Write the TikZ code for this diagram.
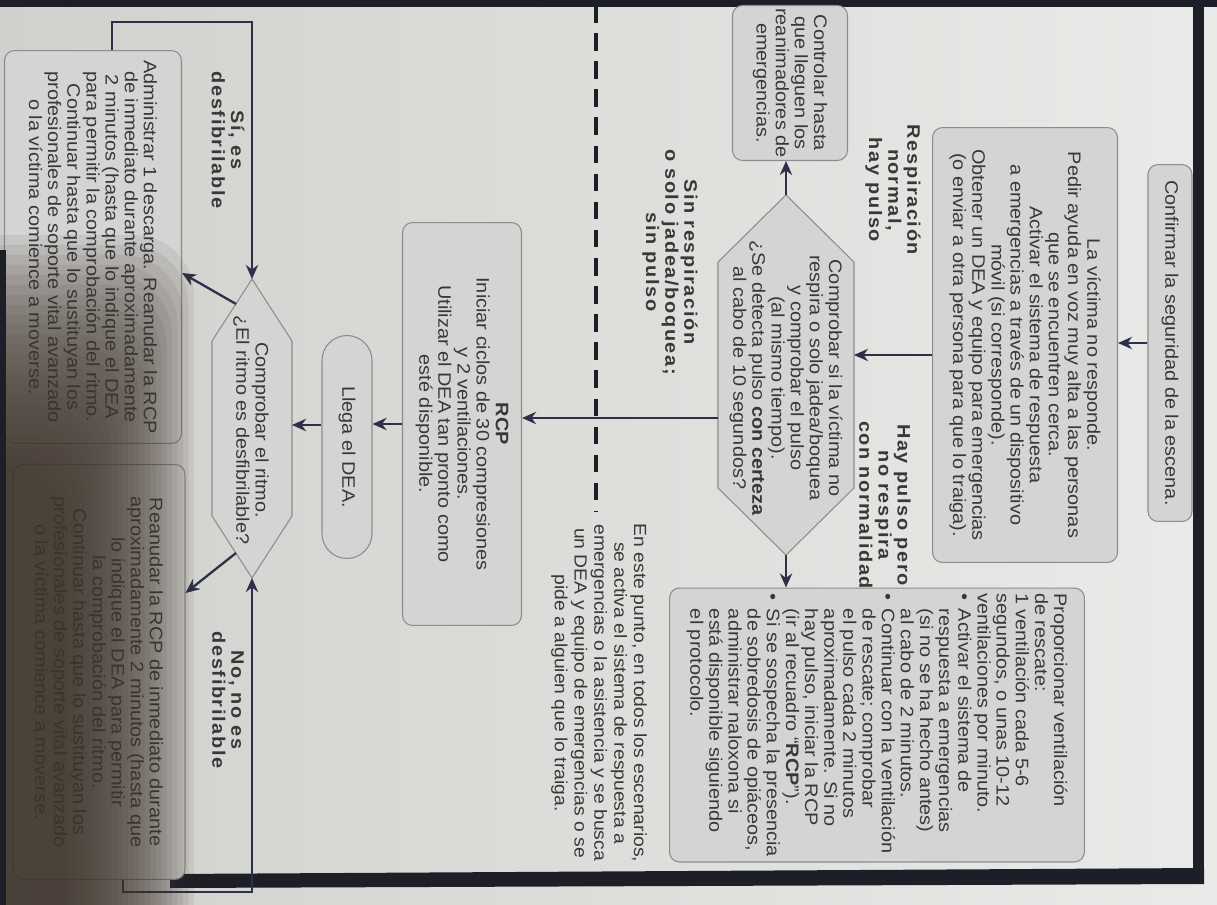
\documentclass[tikz,border=0pt]{standalone}
\usepackage{fontspec}
\setmainfont{Liberation Sans}[FakeStretch=1.1]
\usetikzlibrary{arrows.meta,calc}

\definecolor{bgL}{HTML}{D0D0CC}
\definecolor{bgR}{HTML}{EAEAE8}
\definecolor{boxfill}{HTML}{D4D4D2}
\definecolor{boxline}{HTML}{8C8C8A}
\definecolor{ink}{HTML}{38383A}
\definecolor{conn}{HTML}{2C3048}
\definecolor{framec}{HTML}{1C1E28}
\definecolor{shadowc}{HTML}{3F352C}

\begin{document}
\begin{tikzpicture}[x=0.02cm,y=-0.02cm,
  txt/.style={rotate=-90, text=ink, font=\fontsize{10.3}{10.9}\selectfont, align=center, inner sep=0pt},
  box/.style={txt, draw=boxline, fill=boxfill, line width=0.6pt, rounded corners=0.2cm},
  lbl/.style={txt, font=\fontsize{10.3}{10.9}\selectfont\bfseries\addfontfeatures{LetterSpace=9}},
  note/.style={txt, font=\fontsize{10.0}{11.3}\selectfont},
  arr/.style={draw=conn, line width=1.3pt, -{Stealth[length=8pt,width=7pt]}},
  diam/.style={draw=boxline, fill=boxfill, line width=0.6pt},
  sepline/.style={draw=framec, line width=2.2pt, dash pattern=on 10pt off 6pt},
  shadowlayer/.style={fill=shadowc, fill opacity=0.085, rounded corners=1.2cm}
]
\useasboundingbox (0,0) rectangle (1217,905);
\shade[left color=bgL, right color=bgR] (0,0) rectangle (1217,905);

% frame of the sheet
\fill[framec] (0,0) rectangle (1217,7);
\fill[framec] (1193,0) rectangle (1204,884);
\fill[framec] (170,874) -- (1204,868) -- (1204,884) -- (170,888) -- cycle;

% dashed separator
\draw[sepline] (596,5) -- (596,512);

% boxes
\node[box, minimum width=7.14cm, minimum height=0.88cm] (confirm) at (1170,343) {Confirmar la seguridad de la escena.};
\node[box, minimum width=8.7cm, minimum height=3.7cm] (bigbox) at (1025,345) {La víctima no responde.\\Pedir ayuda en voz muy alta a las personas\\que se encuentren cerca.\\Activar el sistema de respuesta\\a emergencias a través de un dispositivo\\móvil (si corresponde).\\Obtener un DEA y equipo para emergencias\\(o enviar a otra persona para que lo traiga).};
\node[box, minimum width=3.1cm, minimum height=2.3cm] (ctrl) at (790,83) {Controlar hasta\\que lleguen los\\reanimadores de\\emergencias.};
\node[box, align=left, minimum width=5.48cm, minimum height=8.3cm] (prop) at (877,725) {Proporcionar ventilación\\de rescate:\\1 ventilación cada 5-6\\segundos, o unas 10-12\\ventilaciones por minuto.\\\makebox[9pt][l]{•}Activar el sistema de\\\hspace*{9pt}respuesta a emergencias\\\hspace*{9pt}(si no se ha hecho antes)\\\hspace*{9pt}al cabo de 2 minutos.\\\makebox[9pt][l]{•}Continuar con la ventilación\\\hspace*{9pt}de rescate; comprobar\\\hspace*{9pt}el pulso cada 2 minutos\\\hspace*{9pt}aproximadamente. Si no\\\hspace*{9pt}hay pulso, iniciar la RCP\\\hspace*{9pt}(ir al recuadro “\textbf{RCP}”).\\\makebox[9pt][l]{•}Si se sospecha la presencia\\\hspace*{9pt}de sobredosis de opiáceos,\\\hspace*{9pt}administrar naloxona si\\\hspace*{9pt}está disponible siguiendo\\\hspace*{9pt}el protocolo.};
\node[box, minimum width=8.06cm, minimum height=2.38cm] (rcp) at (462,424) {\textbf{RCP}\\Iniciar ciclos de 30 compresiones\\y 2 ventilaciones.\\Utilizar el DEA tan pronto como\\esté disponible.};
\node[box, rounded corners=0.5cm, minimum width=4.46cm, minimum height=1.0cm] (llega) at (347,447) {Llega el DEA.};
\node[box, minimum width=7.86cm, minimum height=3.54cm] (adm) at (93,247) {Administrar 1 descarga. Reanudar la RCP\\de inmediato durante aproximadamente\\2 minutos (hasta que lo indique el DEA\\para permitir la comprobación del ritmo.\\Continuar hasta que lo sustituyan los\\profesionales de soporte vital avanzado\\o la víctima comience a moverse.};
\node[box, minimum width=8.3cm, minimum height=3.44cm] (rean) at (99,672) {Reanudar la RCP de inmediato durante\\aproximadamente 2 minutos (hasta que\\lo indique el DEA para permitir\\la comprobación del ritmo.\\Continuar hasta que lo sustituyan los\\profesionales de soporte vital avanzado\\o la víctima comience a moverse.};

% decision 1
\coordinate (d1t) at (786,195);
\coordinate (d1rt) at (854,262);
\coordinate (d1rb) at (854,488);
\coordinate (d1b) at (786,555);
\coordinate (d1lb) at (718,488);
\coordinate (d1lt) at (718,262);
\coordinate (d1in) at (854,355);
\coordinate (d1out) at (718,418);
\draw[diam] (d1t) -- (d1rt) -- (d1rb) -- (d1b) -- (d1lb) -- (d1lt) -- cycle;
\node[txt] (d1) at (786,378) {Comprobar si la víctima no\\respira o solo jadea/boquea\\y comprobar el pulso\\(al mismo tiempo).\\¿Se detecta pulso \textbf{con certeza}\\al cabo de 10 segundos?};

% decision 2
\coordinate (d2t) at (252,279);
\coordinate (d2rt) at (292,341);
\coordinate (d2rb) at (292,516);
\coordinate (d2b) at (252,578);
\coordinate (d2lb) at (212,516);
\coordinate (d2lt) at (212,341);
\coordinate (d2in) at (292,425);
\coordinate (d2o1) at (236,304);
\coordinate (d2o2) at (236,553);
\draw[diam] (d2t) -- (d2rt) -- (d2rb) -- (d2b) -- (d2lb) -- (d2lt) -- cycle;
\node[txt] (d2) at (251,430) {Comprobar el ritmo.\\¿El ritmo es desfibrilable?};

% labels
\node[lbl] (la) at (893,190) {Respiración\\normal,\\hay pulso};
\node[lbl] (lb) at (885,505) {Hay pulso pero\\no respira\\con normalidad};
\node[lbl] (lc) at (670,262) {Sin respiración\\o solo jadea/boquea;\\sin pulso};
\node[lbl] (ld) at (228,140) {Sí, es\\desfibrilable};
\node[lbl] (le) at (228,700) {No, no es\\desfibrilable};
\node[note] (nt) at (599,693) {En este punto, en todos los escenarios,\\se activa el sistema de respuesta a\\emergencias o la asistencia y se busca\\un DEA y equipo de emergencias o se\\pide a alguien que lo traiga.};

% connectors
\draw[arr] (confirm.south) -- (confirm.south -| bigbox.north);
\draw[arr] (bigbox.south |- d1in) -- (d1in);
\draw[arr] (d1t) -- (d1t |- ctrl.east);
\draw[arr] (d1b) -- (d1b |- prop.west);
\draw[arr] (d1out) -- (d1out -| rcp.north);
\draw[arr] (rcp.south) -- (rcp.south -| llega.north);
\draw[arr] (llega.south |- d2in) -- (d2in);
\draw[arr] (d2o1) -- ($(adm.north)+(0,26)$);
\draw[arr] (d2o2) -- ($(rean.north)+(0,-79)$);
\draw[arr] ($(adm.west)+(19,0)$) -- ++(0,-28) -| (d2t);
\draw[arr] ($(rean.east)+(24,0)$) -- ++(0,12) -| (d2b);

% shadow of the photograph (bottom left)
\begin{scope}
\clip (0,0) rectangle (1217,905);
\foreach \i in {0,...,23}{
  \path[shadowlayer] (-60,{235+10*\i}) rectangle ({194-5.5*\i},960);
}
\fill[framec] (0,250) rectangle (6,905);
\end{scope}
\end{tikzpicture}
\end{document}
